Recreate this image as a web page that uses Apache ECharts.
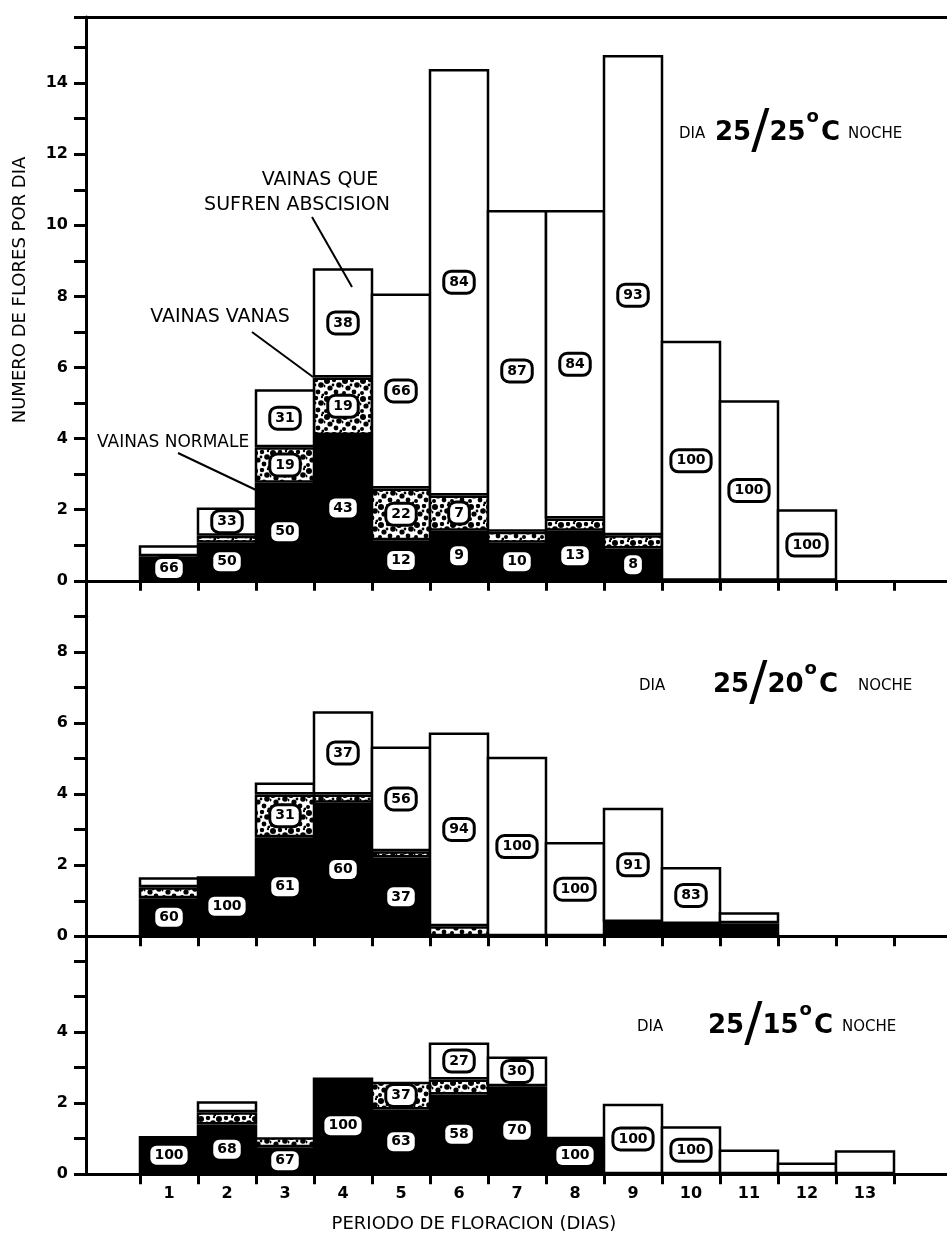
<!DOCTYPE html>
<html>
<head>
<meta charset="utf-8">
<title>Numero de flores por dia</title>
<script src="https://cdn.jsdelivr.net/npm/echarts@6/dist/echarts.min.js"></script>
<style>
    html, body { margin: 0; padding: 0; background: #fff; }
    #chart { width: 947px; height: 1236px; }
</style>
</head>
<body>
<div id="chart"></div>
<script>
// dias del periodo de floracion (categoria inicial y finales vacias)
var dias = ['', '1', '2', '3', '4', '5', '6', '7', '8', '9', '10', '11', '12', '13', '', ''];

// DIA 25/25 C NOCHE  (flores por dia)
var normal2525 = [0, 0.69, 1.07, 2.76, 4.10, 1.14, 1.41, 1.07, 1.41, 0.91, 0, 0, 0, 0, 0, 0];
var vanas2525  = [0, 0, 0.20, 1.00, 1.62, 1.46, 0.99, 0.31, 0.34, 0.37, 0, 0, 0, 0, 0, 0];
var absc2525   = [0, 0.31, 0.79, 1.63, 3.07, 5.48, 12.0, 9.05, 8.68, 13.51, 6.75, 5.08, 2.01, 0, 0, 0];
// porcentajes escritos en las barras
var pctNormal2525 = ['', '66', '50', '50', '43', '12', '9', '10', '13', '8', '', '', '', '', '', ''];
var pctVanas2525  = ['', '', '', '19', '19', '22', '7', '', '', '', '', '', '', '', '', ''];
var pctAbsc2525   = ['', '', '33', '31', '38', '66', '84', '87', '84', '93', '100', '100', '100', '', '', ''];

// DIA 25/20 C NOCHE
var normal2520 = [0, 1.07, 1.69, 2.79, 3.76, 2.22, 0, 0, 0, 0.40, 0.35, 0.37, 0, 0, 0, 0];
var vanas2520  = [0, 0.31, 0, 1.20, 0.23, 0.17, 0.28, 0, 0, 0, 0, 0, 0, 0, 0, 0];
var absc2520   = [0, 0.28, 0, 0.34, 2.34, 2.95, 5.45, 5.05, 2.65, 3.22, 1.60, 0.31, 0, 0, 0, 0];
var pctNormal2520 = ['', '60', '100', '61', '60', '37', '', '', '', '', '', '', '', '', '', ''];
var pctVanas2520  = ['', '', '', '31', '', '', '', '', '', '', '', '', '', '', '', ''];
var pctAbsc2520   = ['', '', '', '', '37', '56', '94', '100', '100', '91', '83', '', '', '', '', ''];

// DIA 25/15 C NOCHE
var normal2515 = [0, 1.07, 1.40, 0.76, 2.72, 1.82, 2.24, 2.47, 1.05, 0, 0, 0, 0, 0, 0, 0];
var vanas2515  = [0, 0, 0.34, 0.28, 0, 0.78, 0.42, 0, 0, 0, 0, 0, 0, 0, 0, 0];
var absc2515   = [0, 0, 0.31, 0, 0, 0, 1.04, 0.84, 0, 1.98, 1.35, 0.69, 0.33, 0.67, 0, 0];
var pctNormal2515 = ['', '100', '68', '67', '100', '63', '58', '70', '100', '', '', '', '', '', '', ''];
var pctVanas2515  = ['', '', '', '', '', '37', '', '', '', '', '', '', '', '', '', ''];
var pctAbsc2515   = ['', '', '', '', '', '', '27', '30', '', '100', '100', '', '', '', '', ''];

var tomFlorChart = function () {

    var U = 35.55;          // pixeles por flor
    var LEFT = 82;          // inicio de la primera categoria (vacia)
    var BAND = 58;          // ancho de cada dia
    var FONT = 'DejaVu Sans';

    // rango de cada eje y (el panel de arriba baja hasta -1)
    var yMin = [-1, 0, 0];
    var yMax = [15.86, 9, 6.69];
    var yLabelMax = [14, 8, 4];

    // textura punteada de las vainas vanas
    var makeStipple = function () {
        var c = document.createElement('canvas');
        c.width = 18;
        c.height = 18;
        var ctx = c.getContext('2d');
        ctx.fillStyle = '#fff';
        ctx.fillRect(0, 0, 18, 18);
        ctx.fillStyle = '#000';
        var dots = [[3, 3, 3], [10, 2, 2.2], [15, 7, 2.8], [6, 10, 2.6], [12, 14, 2.4],
                    [2, 15, 2], [17, 17, 1.6], [9, 7, 1.4], [0, 8, 1.5], [16, 1, 1.2]];
        for (var i = 0; i < dots.length; i++) {
            ctx.beginPath();
            ctx.arc(dots[i][0], dots[i][1], dots[i][2], 0, Math.PI * 2);
            ctx.fill();
        }
        return c;
    };
    var stipple = { image: makeStipple(), repeat: 'repeat' };

    // etiqueta en caja redondeada
    var boxLabel = {
        show: true,
        position: 'inside',
        color: '#000',
        fontFamily: FONT,
        fontWeight: 'bold',
        fontSize: 14,
        backgroundColor: '#fff',
        borderColor: '#000',
        borderWidth: 3,
        borderRadius: 6,
        padding: [3, 4, 2, 4],
        textBorderWidth: 0
    };

    var buildData = function (values, pcts) {
        var out = [];
        for (var i = 0; i < values.length; i++) {
            if (!values[i]) {
                out.push('-');
                continue;
            }
            out.push({
                value: values[i],
                label: { show: !!pcts[i], formatter: pcts[i] || '' }
            });
        }
        return out;
    };

    var panels = [
        [normal2525, vanas2525, absc2525, pctNormal2525, pctVanas2525, pctAbsc2525],
        [normal2520, vanas2520, absc2520, pctNormal2520, pctVanas2520, pctAbsc2520],
        [normal2515, vanas2515, absc2515, pctNormal2515, pctVanas2515, pctAbsc2515]
    ];

    var init = function (elementId) {
        var myChart = echarts.init(document.getElementById(elementId));

        var grids = [], xAxes = [], yAxes = [], series = [];
        var top = 17;
        // el borde se dibuja por dentro de la barra: se ensancha para que las barras vecinas compartan linea
        var barW = BAND + 2.5;
        for (var k = 0; k < 3; k++) {
            var h = (yMax[k] - yMin[k]) * U;
            // la rejilla sigue mas alla del borde derecho, como en el original
            grids.push({ left: LEFT, top: top, width: BAND * dias.length, height: h, outerBoundsMode: 'none' });
            top += h;

            xAxes.push({
                type: 'category',
                gridIndex: k,
                data: dias,
                axisLine: { onZero: true, lineStyle: { color: '#000', width: 3 } },
                axisTick: {
                    show: true,
                    length: 10,
                    interval: function (i) { return i > 0; },
                    lineStyle: { color: '#000', width: 3 }
                },
                axisLabel: {
                    show: k === 2,
                    interval: 0,
                    margin: 12,
                    color: '#000',
                    fontFamily: FONT,
                    fontWeight: 'bold',
                    fontSize: 16
                },
                splitLine: { show: false }
            });

            yAxes.push({
                type: 'value',
                gridIndex: k,
                min: yMin[k],
                max: yMax[k],
                interval: 1,
                offset: -4,
                axisLine: { show: true, lineStyle: { color: '#000', width: 3 } },
                axisTick: { show: true, length: 12, lineStyle: { color: '#000', width: 3 } },
                splitLine: { show: false },
                axisLabel: {
                    margin: 18,
                    color: '#000',
                    fontFamily: FONT,
                    fontWeight: 'bold',
                    fontSize: 16,
                    formatter: (function (lim) {
                        return function (v) {
                            return (v >= 0 && v <= lim && v % 2 === 0) ? String(v) : '';
                        };
                    })(yLabelMax[k])
                }
            });

            var p = panels[k];
            series.push({
                name: 'Vainas normales', type: 'bar', stack: 'p' + k,
                xAxisIndex: k, yAxisIndex: k, barWidth: barW,
                data: buildData(p[0], p[3]),
                itemStyle: { color: '#000', borderColor: '#000', borderWidth: 2.5 },
                label: boxLabel
            });
            series.push({
                name: 'Vainas vanas', type: 'bar', stack: 'p' + k,
                xAxisIndex: k, yAxisIndex: k, barWidth: barW,
                data: buildData(p[1], p[4]),
                itemStyle: { color: stipple, borderColor: '#000', borderWidth: 2.5 },
                label: boxLabel
            });
            series.push({
                name: 'Vainas que sufren abscision', type: 'bar', stack: 'p' + k,
                xAxisIndex: k, yAxisIndex: k, barWidth: barW,
                data: buildData(p[2], p[5]),
                itemStyle: { color: '#fff', borderColor: '#000', borderWidth: 2.5 },
                label: boxLabel
            });
        }

        // linea superior del marco
        xAxes.push({
            type: 'category', gridIndex: 0, position: 'top', data: dias,
            axisLine: { onZero: false, lineStyle: { color: '#000', width: 3 } },
            axisTick: { show: false }, axisLabel: { show: false }
        });

        var txt = function (text, x, y, size, align, extra) {
            var el = {
                type: 'text', x: x, y: y, z: 5,
                style: {
                    text: text, fill: '#000',
                    font: size + 'px "' + FONT + '"',
                    textAlign: align || 'left', textVerticalAlign: 'middle'
                }
            };
            if (extra) {
                for (var key in extra) { el[key] = extra[key]; }
            }
            return el;
        };
        var big = function (text, x, y) {
            return {
                type: 'text', x: x, y: y, z: 5,
                style: {
                    text: text, textAlign: 'left', textVerticalAlign: 'middle',
                    rich: {
                        n: { fontFamily: FONT, fontWeight: 'bold', fontSize: 26, fill: '#000', verticalAlign: 'middle' },
                        sl: { fontFamily: FONT, fontSize: 54, fill: '#000', verticalAlign: 'middle' },
                        dg: { fontFamily: FONT, fontWeight: 'bold', fontSize: 18, fill: '#000', verticalAlign: 'top', padding: [2, 2, 0, 1] }
                    }
                }
            };
        };
        var lead = function (x1, y1, x2, y2) {
            return {
                type: 'line', z: 5,
                shape: { x1: x1, y1: y1, x2: x2, y2: y2 },
                style: { stroke: '#000', lineWidth: 2 }
            };
        };

        var graphic = [
            txt('NUMERO DE FLORES POR DIA', 20, 290, 18, 'center', { rotation: Math.PI / 2 }),
            txt('PERIODO DE FLORACION (DIAS)', 474, 1224, 18, 'center'),
            // textos de las curvas
            txt('VAINAS QUE', 320, 180, 19, 'center'),
            txt('SUFREN ABSCISION', 297, 205, 19, 'center'),
            lead(312, 217, 352, 287),
            txt('VAINAS VANAS', 220, 317, 19, 'center'),
            lead(252, 332, 313, 377),
            txt('VAINAS NORMALE', 97, 443, 17, 'left'),
            lead(178, 453, 256, 490),
            // titulos de temperatura
            txt('DIA', 679, 134, 15, 'left'),
            big('{n|25}{sl|/}{n|25}{dg|o}{n|C}', 715, 133),
            txt('NOCHE', 848, 134, 15, 'left'),
            txt('DIA', 639, 686, 15, 'left'),
            big('{n|25}{sl|/}{n|20}{dg|o}{n|C}', 713, 685),
            txt('NOCHE', 858, 686, 15, 'left'),
            txt('DIA', 637, 1027, 15, 'left'),
            big('{n|25}{sl|/}{n|15}{dg|o}{n|C}', 708, 1026),
            txt('NOCHE', 842, 1027, 15, 'left')
        ];

        var option = {
            animation: false,
            backgroundColor: '#fff',
            grid: grids,
            xAxis: xAxes,
            yAxis: yAxes,
            series: series,
            graphic: graphic
        };
        myChart.setOption(option);
        return myChart;
    };

    return {
        init: init
    };
}();

tomFlorChart.init('chart');
</script>
</body>
</html>
